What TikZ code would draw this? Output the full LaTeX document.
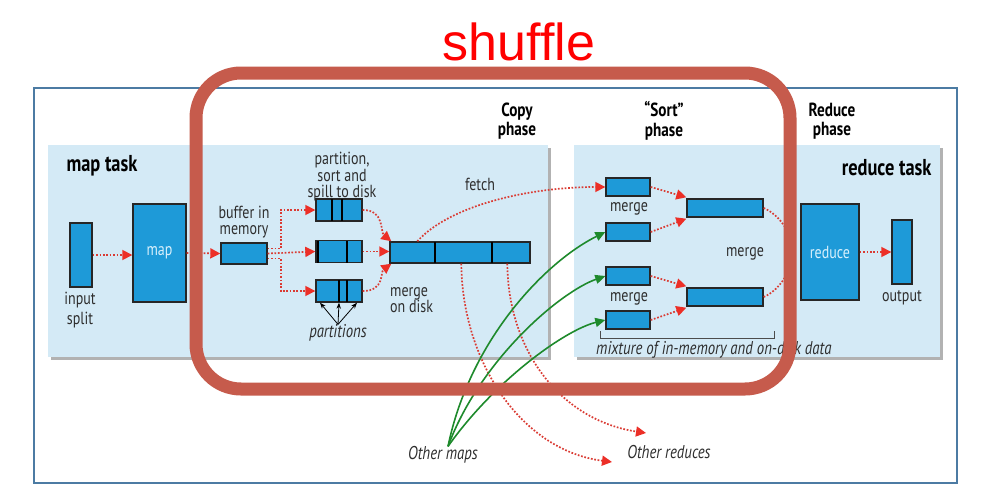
\documentclass[tikz,border=0pt]{standalone}
\usepackage{fontspec}
\setmainfont{PT Sans}[FakeStretch=0.8]
\newfontfamily\titlefont{Liberation Sans}
\usetikzlibrary{arrows.meta}
\definecolor{panelblue}{HTML}{D4EAF6}
\definecolor{boxblue}{HTML}{1E9AD8}
\definecolor{boxtxt}{HTML}{D8F0FC}
\definecolor{arrred}{HTML}{DA3B33}
\definecolor{tipred}{HTML}{EC2F27}
\definecolor{arrgreen}{HTML}{1E8A2C}
\definecolor{framered}{HTML}{C65B4C}
\definecolor{framegray}{HTML}{4C7BA3}
\definecolor{txt}{HTML}{2E2E2E}
\begin{document}
\begin{tikzpicture}[x=1pt,y=-1pt, font=\fontsize{17.5}{16.5}\selectfont, text=txt,
 blk/.style={draw=black!85,line width=1.4pt,fill=boxblue,inner sep=0pt},
 dotarr/.style={draw=arrred,line width=1.7pt,dash pattern=on 1.7pt off 1.7pt,-{Triangle[length=10pt,width=10pt,color=tipred]}},
 grnarr/.style={draw=arrgreen,line width=1.6pt,-{Triangle[length=10pt,width=9pt]}},
 task/.style={font=\bfseries\fontsize{23}{20}\selectfont,text=black},
 phase/.style={font=\bfseries\fontsize{19}{19.5}\selectfont,align=center,text=black},
 lbl/.style={align=center,inner sep=0pt},
 ital/.style={inner sep=0pt,font=\fontsize{18.5}{16}\selectfont\itshape}]
\useasboundingbox (0,0) rectangle (987,503);
\fill[white] (0,0) rectangle (987,503);

\draw[framegray,line width=1.6pt] (34,88) rectangle (957,483);
\foreach \xa/\xb in {48/548,574/940}{
\fill[black!30] (\xa+3,148) rectangle (\xb+3,360);
\fill[panelblue] (\xa,145) rectangle (\xb,357);
}

\node[blk,minimum width=22,minimum height=64] (split) at (81,255) {};
\node[blk,minimum width=53,minimum height=98,text=boxtxt] (map) at (159.5,253) {map};
\node[blk,minimum width=46,minimum height=21] (buf) at (244,253.5) {};
\foreach \n/\yy in {1/210,2/251.5,3/291}
\node[blk,minimum width=46,minimum height=22] (p\n) at (339,\yy) {};
\foreach \yy/\da/\db in {210/332/342,251.5/318/347,291/339/347}
\draw[line width=1.4pt] (\da,\yy-11) -- (\da,\yy+11) (\db,\yy-11) -- (\db,\yy+11);
\node[blk,minimum width=140,minimum height=21] (disk) at (460,252.5) {};
\foreach \da in {435,492}
\draw[line width=1.4pt] (\da,242) -- (\da,263);

\foreach \n/\yy in {1/187,2/232,3/276,4/320}
\node[blk,minimum width=44,minimum height=18] (s\n) at (628,\yy) {};
\foreach \n/\yy in {1/208,2/297}
\node[blk,minimum width=76,minimum height=18] (m\n) at (725,\yy) {};
\node[blk,minimum width=58,minimum height=96,text=boxtxt] (red) at (830,252) {reduce};
\node[blk,minimum width=20,minimum height=64] (out) at (902,252) {};

\node[task,anchor=west] (maptask) at (63,166) {map task};
\node[task,anchor=east] (redtask) at (935,168) {reduce task};
\node[phase] (copy) at (517,121) {Copy\\phase};
\node[phase] (sort) at (664,121) {“Sort”\\phase};
\node[phase] (redph) at (832,121) {Reduce\\phase};

\node[lbl] (splitlbl) at (80,310) {input\\[3pt]split};
\node[lbl] (buflbl) at (244,222) {buffer in\\memory};
\node[lbl] (spill) at (342,177) {partition,\\sort and\\spill to disk};
\node[ital] (parts) at (338,333) {partitions};
\node[lbl,anchor=west,align=left] (mergedisk) at (390,300) {merge\\on disk};
\node[lbl] (fetch) at (480,184) {fetch};
\node[lbl] (mergeA) at (629,209) {merge};
\node[lbl] (mergeB) at (629,299) {merge};
\node[lbl] (mergeC) at (745,254) {merge};
\node[lbl] (outlbl) at (902,298) {output};
\node[ital,anchor=west] (mix) at (596,350) {mixture of in-memory and on-disk data};
\node[ital] (omaps) at (443,455) {Other maps};
\node[ital] (oreds) at (669,452) {Other reduces};
\coordinate (redA) at (612,462);
\coordinate (redB) at (646,433);

\draw[dotarr] (split.east) -- (split.east -| map.west);
\draw[dotarr] (map.east) -- (buf.west);
\draw[dotarr] (buf.east) -- (p2.west);
\draw[dotarr] ([yshift=5pt]buf.east) -- ++(13,0) |- (p1.west);
\draw[dotarr] ([yshift=-5pt]buf.east) -- ++(13,0) |- (p3.west);
\draw[dotarr] (p1.east) .. controls (385,210) and (380,232) .. ([xshift=2pt]disk.north west);
\draw[dotarr] (p2.east) -- (p2.east -| disk.west);
\draw[dotarr] (p3.east) .. controls (385,291) and (380,272) .. ([xshift=2pt]disk.south west);
\foreach \d in {-19,0,18}
\draw[-{Stealth[length=6pt]},line width=0.8pt,black] (parts.north) -- ([xshift=\d pt]p3.south);

\draw[dotarr] ([xshift=28pt]disk.north west) .. controls (450,205) and (530,187) .. (s1.west);
\draw[dotarr] ([xshift=72pt]disk.south west) .. controls (462,360) and (520,450) .. (redA);
\draw[dotarr] ([xshift=118pt]disk.south west) .. controls (508,350) and (560,420) .. (redB);

\draw[grnarr] ([xshift=5pt]omaps.north) .. controls (470,340) and (545,262) .. (s2.west);
\draw[grnarr] ([xshift=5pt]omaps.north) .. controls (480,360) and (560,292) .. (s3.west);
\draw[grnarr] ([xshift=5pt]omaps.north) .. controls (495,380) and (565,330) .. (s4.west);

\draw[dotarr] (s1.east) -- ([yshift=1pt]m1.north west);
\draw[dotarr] (s2.east) -- ([yshift=-1pt]m1.south west);
\draw[dotarr] (s3.east) -- ([yshift=1pt]m2.north west);
\draw[dotarr] (s4.east) -- ([yshift=-1pt]m2.south west);
\draw[dotarr] (m1.east) .. controls (780,215) and (788,232) .. ([xshift=-5pt,yshift=8pt]red.west);
\draw[dotarr] (m2.east) .. controls (780,290) and (788,272) .. ([xshift=-5pt,yshift=-8pt]red.west);
\draw[dotarr] (red.east) -- (red.east -| out.west);
\draw[line width=0.9pt,black!70] (600,331) -- (600,338) -- (774,338) -- (774,331);

\draw[framered,line width=13pt,rounded corners=45pt] (196,73) rectangle (790,389);
\node[text=red,font=\titlefont\fontsize{52}{60}\selectfont,anchor=base] (shuffle) at (519,60) {shuffle};
\end{tikzpicture}
\end{document}
